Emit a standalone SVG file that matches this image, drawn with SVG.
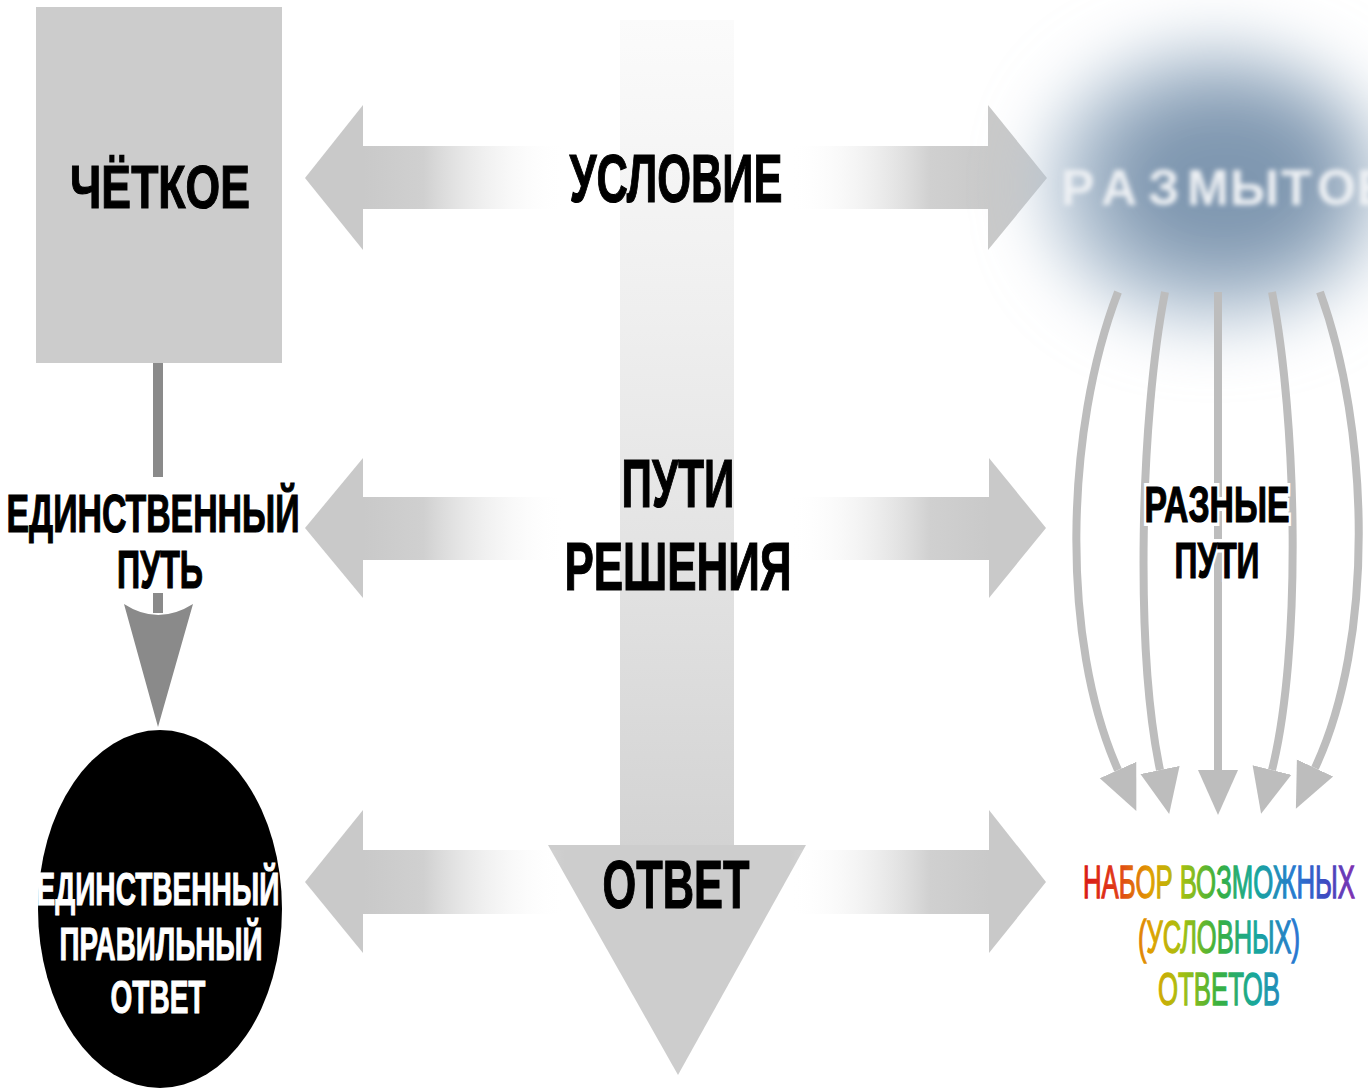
<svg xmlns="http://www.w3.org/2000/svg" width="1368" height="1089" viewBox="0 0 1368 1089">
<style>
.lbl{font-family:"Liberation Sans",Arial,sans-serif;font-weight:bold;fill:#000;stroke:#000;stroke-width:1.2;text-anchor:middle}
.halo{font-family:"Liberation Sans",Arial,sans-serif;font-weight:bold;fill:none;stroke:#fff;stroke-width:8;text-anchor:middle}
.wht{font-family:"Liberation Sans",Arial,sans-serif;font-weight:bold;fill:#fff;stroke:#fff;stroke-width:1;text-anchor:middle}
.rb{font-family:"Liberation Sans",Arial,sans-serif;font-weight:normal;fill:url(#rainbow);stroke:url(#rainbow);stroke-width:1.3;text-anchor:middle}
.head{fill:#c9c9c9}
.curve{fill:none;stroke:#bdbdbd;stroke-width:8}
</style>
<defs>
<linearGradient id="vShaft" x1="0" y1="0" x2="0" y2="1">
<stop offset="0" stop-color="#fbfbfb"/><stop offset="0.35" stop-color="#efefef"/><stop offset="0.65" stop-color="#e3e3e3"/><stop offset="1" stop-color="#d3d3d3"/>
</linearGradient>
<linearGradient id="gL" gradientUnits="userSpaceOnUse" x1="363" y1="0" x2="565" y2="0">
<stop offset="0" stop-color="#c9c9c9"/><stop offset="0.3" stop-color="#d0d0d0"/><stop offset="1" stop-color="#ffffff" stop-opacity="0"/>
</linearGradient>
<linearGradient id="gR" gradientUnits="userSpaceOnUse" x1="790" y1="0" x2="990" y2="0">
<stop offset="0" stop-color="#ffffff" stop-opacity="0"/><stop offset="0.7" stop-color="#d0d0d0"/><stop offset="1" stop-color="#c9c9c9"/>
</linearGradient>
<linearGradient id="rainbow" gradientUnits="userSpaceOnUse" x1="1083" y1="0" x2="1355" y2="0">
<stop offset="0" stop-color="#d81818"/><stop offset="0.12" stop-color="#e03a18"/><stop offset="0.25" stop-color="#e0a000"/><stop offset="0.36" stop-color="#a8c010"/><stop offset="0.5" stop-color="#38b040"/><stop offset="0.63" stop-color="#18a89a"/><stop offset="0.78" stop-color="#2878d0"/><stop offset="0.9" stop-color="#4048c0"/><stop offset="1" stop-color="#8030b0"/>
</linearGradient>
<filter id="cloudBlur" x="-60%" y="-80%" width="220%" height="260%"><feGaussianBlur stdDeviation="34"/></filter>
<filter id="textBlur" x="-10%" y="-40%" width="120%" height="180%"><feGaussianBlur stdDeviation="2.6"/></filter>
<marker id="ah" markerUnits="userSpaceOnUse" markerWidth="48" markerHeight="44" viewBox="0 -22 48 44" refX="0" refY="0" orient="auto">
<path d="M0,-20 L45,0 L0,20 Z" fill="#bdbdbd"/>
</marker>
</defs>
<rect width="1368" height="1089" fill="#fff"/>

<g id="connectors">
<g id="main-arrow">
<rect x="620" y="20" width="114" height="826" fill="url(#vShaft)"/>
<polygon points="548,845 806,845 678,1075" fill="#cdcdcd"/>
</g>
<g id="row-condition">
<rect x="362" y="146" width="204" height="63" fill="url(#gL)"/>
<polygon class="head" points="363,105 363,250 305,178"/>
<rect x="789" y="146" width="201" height="63" fill="url(#gR)"/>
<polygon class="head" points="988,105 988,250 1047,178"/>
</g>
<g id="row-paths">
<rect x="362" y="497" width="204" height="63" fill="url(#gL)"/>
<polygon class="head" points="363,458 363,598 305,528"/>
<rect x="789" y="497" width="201" height="63" fill="url(#gR)"/>
<polygon class="head" points="989,458 989,598 1046,528"/>
</g>
<g id="row-answer">
<rect x="362" y="850" width="204" height="64" fill="url(#gL)"/>
<polygon class="head" points="363,810 363,953 305,882"/>
<rect x="789" y="850" width="201" height="64" fill="url(#gR)"/>
<polygon class="head" points="989,810 989,953 1046,882"/>
</g>
<g id="single-path">
<rect x="153" y="363" width="10" height="114" fill="#8a8a8a"/>
<rect x="153" y="593" width="10" height="20" fill="#8a8a8a"/>
<path d="M124,604 Q158,626 193,604 L158,727 Z" fill="#8a8a8a"/>
</g>
</g>

<g id="node-clear">
<rect x="36" y="7" width="246" height="356" fill="#cccccc"/>
<text class="lbl" x="160" y="208" font-size="62" textLength="180" lengthAdjust="spacingAndGlyphs">ЧЁТКОЕ</text>
</g>

<g id="node-blurry">
<g filter="url(#cloudBlur)">
<ellipse cx="1215" cy="185" rx="170" ry="138" fill="#b4c4d4"/>
<ellipse cx="1225" cy="180" rx="122" ry="92" fill="#7f97b0"/>
</g>
<text filter="url(#textBlur)" font-family="Liberation Sans, Arial, sans-serif" font-weight="bold" font-size="50" fill="#eef1f4" x="1061 1101 1148 1187 1230 1281 1317 1357" y="205">РАЗМЫТОЕ</text>
</g>

<g id="curved-paths">
<path class="curve" d="M1118,292 C1065,430 1060,640 1118,770" marker-end="url(#ah)"/>
<path class="curve" d="M1165,292 C1140,420 1135,650 1160,770" marker-end="url(#ah)"/>
<path class="curve" d="M1218,292 L1218,770" marker-end="url(#ah)"/>
<path class="curve" d="M1272,292 C1297,420 1302,650 1272,770" marker-end="url(#ah)"/>
<path class="curve" d="M1320,292 C1370,430 1375,640 1315,768" marker-end="url(#ah)"/>
</g>

<g id="label-condition">
<text class="lbl" x="676" y="202" font-size="68" textLength="213" lengthAdjust="spacingAndGlyphs">УСЛОВИЕ</text>
</g>
<g id="label-paths">
<text class="lbl" x="678" y="507" font-size="68" textLength="113" lengthAdjust="spacingAndGlyphs">ПУТИ</text>
<text class="lbl" x="678" y="590" font-size="68" textLength="227" lengthAdjust="spacingAndGlyphs">РЕШЕНИЯ</text>
</g>
<g id="label-answer">
<text class="lbl" x="676" y="908" font-size="68" textLength="147" lengthAdjust="spacingAndGlyphs">ОТВЕТ</text>
</g>
<g id="label-single-path">
<text class="lbl" x="153" y="532" font-size="54" textLength="293" lengthAdjust="spacingAndGlyphs">ЕДИНСТВЕННЫЙ</text>
<text class="lbl" x="160" y="588" font-size="54" textLength="86" lengthAdjust="spacingAndGlyphs">ПУТЬ</text>
</g>

<g id="node-single-answer">
<ellipse cx="160" cy="909" rx="122" ry="179" fill="#000"/>
<text class="wht" x="158" y="905" font-size="46" textLength="243" lengthAdjust="spacingAndGlyphs">ЕДИНСТВЕННЫЙ</text>
<text class="wht" x="161" y="960" font-size="46" textLength="203" lengthAdjust="spacingAndGlyphs">ПРАВИЛЬНЫЙ</text>
<text class="wht" x="158" y="1013" font-size="46" textLength="95" lengthAdjust="spacingAndGlyphs">ОТВЕТ</text>
</g>

<g id="label-various-paths">
<text class="halo" x="1217" y="522" font-size="50" textLength="145" lengthAdjust="spacingAndGlyphs">РАЗНЫЕ</text>
<text class="halo" x="1217" y="578" font-size="50" textLength="85" lengthAdjust="spacingAndGlyphs">ПУТИ</text>
<text class="lbl" x="1217" y="522" font-size="50" textLength="145" lengthAdjust="spacingAndGlyphs">РАЗНЫЕ</text>
<text class="lbl" x="1217" y="578" font-size="50" textLength="85" lengthAdjust="spacingAndGlyphs">ПУТИ</text>
</g>

<g id="node-answers-set">
<text class="rb" x="1219" y="898" font-size="46" textLength="272" lengthAdjust="spacingAndGlyphs">НАБОР ВОЗМОЖНЫХ</text>
<text class="rb" x="1219" y="953" font-size="46" textLength="162" lengthAdjust="spacingAndGlyphs">(УСЛОВНЫХ)</text>
<text class="rb" x="1219" y="1005" font-size="46" textLength="122" lengthAdjust="spacingAndGlyphs">ОТВЕТОВ</text>
</g>
</svg>
